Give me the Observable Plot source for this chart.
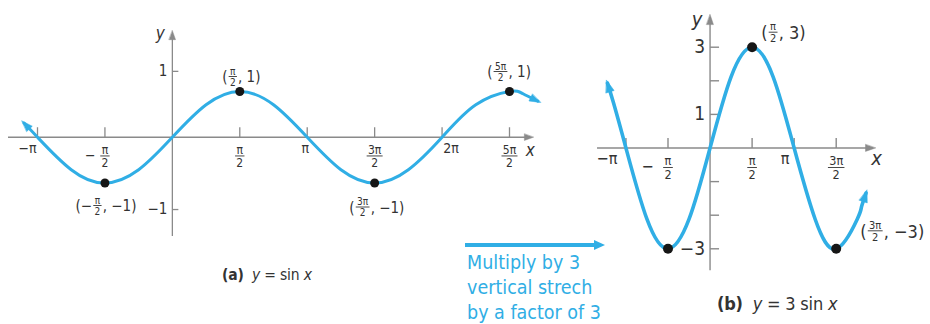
<!DOCTYPE html>
<html><head><meta charset="utf-8">
<script src="https://cdn.jsdelivr.net/npm/d3@7"></script>
<script src="https://cdn.jsdelivr.net/npm/@observablehq/plot@0.6"></script>
<style>
html,body{margin:0;padding:0;background:#fff;}
#root{position:relative;width:930px;height:324px;overflow:hidden;font-family:"DejaVu Sans Condensed","Liberation Sans Narrow",Roboto,sans-serif;color:#333;}
.cap{position:absolute;white-space:nowrap;color:#333;letter-spacing:-0.2px;}
.note{position:absolute;white-space:nowrap;color:#33afe3;font-size:19.5px;line-height:25px;}
</style></head><body><div id="root"></div>
<script>
const PI = Math.PI;
// ---------- Panel (a): y = sin x  (x in multiples of π) ----------
const curveA_xPi = [-1.1, -1, -0.75, -0.5, -0.25, 0, 0.25, 0.5, 0.75, 1, 1.25, 1.5, 1.75, 2, 2.25, 2.5, 2.6, 2.71];
const curveA_y   = [0.31, 0, -0.71, -1, -0.71, 0, 0.71, 1, 0.71, 0, -0.71, -1, -0.71, 0, 0.71, 1, 0.95, 0.79];
const pointsA_xPi = [-0.5, 0.5, 1.5, 2.5];
const pointsA_y = [-1, 1, -1, 1];
const pointLabelsA = ["(−π/2, −1)", "(π/2, 1)", "(3π/2, −1)", "(5π/2, 1)"];
const xTicksA_Pi = [-1, -0.5, 0.5, 1, 1.5, 2, 2.5];
const xTickLabelsA = ["−π", "−π/2", "π/2", "π", "3π/2", "2π", "5π/2"];
const yTicksA = [1.44, -1.58];
const yTickLabelsA = ["1", "−1"];
// ---------- Panel (b): y = 3 sin x ----------
const curveB_xPi = [-1.22, -1.15, -1, -0.75, -0.5, -0.25, 0, 0.25, 0.5, 0.75, 1, 1.25, 1.5, 1.75, 1.8, 1.855];
const curveB_y   = [1.93, 1.36, 0, -2.12, -3, -2.12, 0, 2.12, 3, 2.12, 0, -2.12, -3, -2.12, -1.76, -1.34];
const pointsB_xPi = [-0.5, 0.5, 1.5];
const pointsB_y = [-3, 3, -3];
const pointLabelsB = ["", "(π/2, 3)", "(3π/2, −3)"];
const xTicksB_Pi = [-1, -0.5, 0.5, 1, 1.5];
const xTickLabelsB = ["−π", "−π/2", "π/2", "π", "3π/2"];
const yTicksB = [3, 2, 1, -1, -2, -3];
const yTickLabelsB = ["3", "", "1", "", "", "−3"];

const FONT = '"DejaVu Sans Condensed","Liberation Sans Narrow",Roboto,sans-serif';
const BLUE = "#30aee5";
const AXIS = "#8a8a8a";
const INK = "#333";

const lineShape = {draw(ctx, l) { ctx.moveTo(0, 0); ctx.lineTo(0, -l); }};
const headShape = (w) => ({draw(ctx, l) { ctx.moveTo(0, -l); ctx.lineTo(w, 0); ctx.lineTo(-w, 0); ctx.closePath(); }});

// stacked fraction: numerator and denominator in one text element, with a bar between
function fractionMarks(x, y, num, den, o) {
  const d = [{x, y}];
  const bw = o.barW ?? (Math.max(num.length, den.length) * o.fs * 0.55 + 2);
  const base = {x: "x", y: "y", fontFamily: FONT, fill: INK};
  const pad = o.pad ?? 1;
  const ms = [
    Plot.text(d, {...base, text: () => num + "\n" + den, lineHeight: o.sep / o.fs, dx: o.dx, dy: o.dy + (o.shift ?? 0), fontSize: o.fs}),
    Plot.vector(d, {x: "x", y: "y", dx: o.dx, dy: o.dy, rotate: 90, anchor: "middle", length: bw, shape: lineShape, stroke: INK, strokeWidth: 0.9})
  ];
  if (o.prefix) ms.push(Plot.text(d, {...base, text: () => o.prefix, textAnchor: "end", dx: o.dx - bw / 2 - pad, dy: o.dy + (o.sideDy ?? 0), fontSize: o.sideFs}));
  if (o.suffix) ms.push(Plot.text(d, {...base, text: () => o.suffix, textAnchor: "start", dx: o.dx + bw / 2 + pad, dy: o.dy + (o.sideDy ?? 0), fontSize: o.sideFs}));
  return ms;
}

function buildPanel(P) {
  const sx = Plot.scale({x: {domain: P.x.domain, range: P.x.range}});
  const sy = Plot.scale({y: {domain: P.y.domain, range: P.y.range}});
  const toPx = (d) => [sx.apply(d.x), sy.apply(d.y)];
  const curve = P.curveXPi.map((v, i) => ({x: v * PI, y: P.curveY[i]}));
  function head(a, b) {
    const [ax, ay] = toPx(a), [bx, by] = toPx(b);
    const len = Math.hypot(bx - ax, by - ay);
    const ux = (bx - ax) / len, uy = (by - ay) / len;
    return {x: sx.invert(bx + ux * P.headExtra), y: sy.invert(by + uy * P.headExtra), angle: Math.atan2(ux, -uy) * 180 / PI};
  }
  const n = curve.length;
  const heads = [head(curve[1], curve[0]), head(curve[n - 2], curve[n - 1])];
  const [xa0, xa1] = P.xAxisExtent.map(v => v * PI);
  const [ya0, ya1] = P.yAxisExtent;
  const axisHeads = [{x: xa1, y: 0, angle: 90}, {x: 0, y: ya1, angle: 0}];
  const xLineEnd = sx.invert(sx.apply(xa1) - 4);
  const yLineEnd = sy.invert(sy.apply(ya1) + 4);
  const txt = {fontFamily: FONT, fill: INK};

  const marks = [
    Plot.ruleY([0], {x1: xa0, x2: xLineEnd, stroke: AXIS, strokeWidth: P.axisW}),
    Plot.ruleX([0], {y1: ya0, y2: yLineEnd, stroke: AXIS, strokeWidth: P.axisW}),
    Plot.vector(axisHeads, {x: "x", y: "y", rotate: "angle", length: P.axisHeadLen, anchor: "end", shape: headShape(P.axisHeadW), fill: AXIS, stroke: AXIS, strokeWidth: 0.5}),
    Plot.vector(P.xTicksPi.map(v => ({x: v * PI, y: 0})), {x: "x", y: "y", rotate: 0, length: P.xTickLen, anchor: "start", shape: lineShape, stroke: AXIS, strokeWidth: P.axisW, strokeLinecap: "butt"}),
    Plot.vector(P.yTicks.map(v => ({x: 0, y: v})), {x: "x", y: "y", rotate: 90, length: P.yTickLen, anchor: "start", shape: lineShape, stroke: AXIS, strokeWidth: P.axisW, strokeLinecap: "butt"}),
    Plot.text([{x: xa1, y: 0}], {x: "x", y: "y", text: () => "x", fontStyle: "italic", fontSize: P.axisNameFs, dx: P.xNameOff[0], dy: P.xNameOff[1], ...txt}),
    Plot.text([{x: 0, y: ya1}], {x: "x", y: "y", text: () => "y", fontStyle: "italic", fontSize: P.axisNameFs, dx: P.yNameOff[0], dy: P.yNameOff[1], ...txt}),
    Plot.line(curve, {x: "x", y: "y", curve: "natural", stroke: BLUE, strokeWidth: P.curveW}),
    Plot.vector(heads, {x: "x", y: "y", rotate: "angle", length: P.headLen, anchor: "end", shape: headShape(P.headW), fill: BLUE, stroke: BLUE, strokeWidth: 0.5}),
    Plot.dot(P.pointsXPi.map((v, i) => ({x: v * PI, y: P.pointsY[i]})), {x: "x", y: "y", r: P.dotR, fill: "#161616"})
  ];
  P.yTicks.forEach((v, i) => {
    const t = P.yTickLabels[i];
    if (t) marks.push(Plot.text([{x: 0, y: v}], {x: "x", y: "y", text: () => t, textAnchor: "end", dx: -P.yLabelGap, fontSize: P.yLabelFs, ...txt}));
  });
  P.xTicksPi.forEach((v, i) => {
    const t = P.xTickLabels[i];
    const m = t.match(/^(−?)(\d*π)\/(\d+)$/);
    if (m) {
      marks.push(...fractionMarks(v * PI, 0, m[2], m[3], {dx: 0, dy: P.tf.barDy, fs: P.tf.fs, sep: P.tf.sep, shift: P.tf.shift, prefix: m[1], sideFs: P.tickFs, pad: P.tf.signPad, sideDy: P.tf.signDy}));
    } else {
      marks.push(Plot.text([{x: v * PI, y: 0}], {x: "x", y: "y", text: () => t, dx: (P.singleDx[t] ?? 0), dy: P.singleDy, fontSize: P.tickFs, ...txt}));
    }
  });
  P.pointsXPi.forEach((v, i) => {
    const m = P.pointLabels[i].match(/^\((−?)(\d*π)\/(\d+)(,.*)$/);
    if (!m) return;
    const off = P.pointLabelOff[i];
    marks.push(...fractionMarks(v * PI, P.pointsY[i], m[2], m[3], {dx: off[0], dy: off[1], fs: P.pf.fs, sep: P.pf.sep, shift: P.pf.shift, prefix: "(" + m[1], suffix: m[4], sideFs: P.pf.sideFs, pad: P.pf.pad, sideDy: P.pf.sideDy}));
  });

  const svg = Plot.plot({
    width: P.width, height: 324,
    x: {domain: P.x.domain, range: P.x.range, axis: null},
    y: {domain: P.y.domain, range: P.y.range, axis: null},
    style: {background: "transparent", overflow: "visible"},
    marks
  });
  svg.style.position = "absolute";
  svg.style.left = P.left + "px";
  svg.style.top = "0px";
  return svg;
}

const panelA = {
  left: 0, width: 590,
  x: {domain: [-PI, 2.5 * PI], range: [37, 509]},
  y: {domain: [-1, 1], range: [182.5, 91]},
  curveXPi: curveA_xPi, curveY: curveA_y,
  pointsXPi: pointsA_xPi, pointsY: pointsA_y, pointLabels: pointLabelsA,
  xTicksPi: xTicksA_Pi, xTickLabels: xTickLabelsA, yTicks: yTicksA, yTickLabels: yTickLabelsA,
  xAxisExtent: [-1.215, 2.677], yAxisExtent: [-2.17, 2.33],
  axisW: 1.3, axisHeadLen: 9, axisHeadW: 3.2, xTickLen: 10, yTickLen: 6,
  curveW: 3, headLen: 11, headW: 3.8, headExtra: 3, dotR: 4.5,
  axisNameFs: 17, xNameOff: [-3, 13], yNameOff: [-12, 3],
  tickFs: 14, singleDx: {"−π": -10, "π": -2, "2π": 9}, singleDy: 11,
  tf: {fs: 12, sep: 13, barDy: 18.7, shift: 0, signPad: 5, signDy: -0.5},
  yLabelFs: 15, yLabelGap: 5,
  pf: {fs: 10, sep: 11, shift: 0, sideFs: 15, pad: 1.5, sideDy: 1},
  pointLabelOff: [[-7.5, 22.5], [-7, -15], [-12, 24], [-9, -20]]
};
const panelB = {
  left: 590, width: 340,
  x: {domain: [-0.5 * PI, 1.5 * PI], range: [77.5, 245.7]},
  y: {domain: [-3, 3], range: [248.3, 46.7]},
  curveXPi: curveB_xPi, curveY: curveB_y,
  pointsXPi: pointsB_xPi, pointsY: pointsB_y, pointLabels: pointLabelsB,
  xTicksPi: xTicksB_Pi, xTickLabels: xTickLabelsB, yTicks: yTicksB, yTickLabels: yTickLabelsB,
  xAxisExtent: [-1.338, 1.967], yAxisExtent: [-3.65, 3.97],
  axisW: 1.4, axisHeadLen: 10, axisHeadW: 3.4, xTickLen: 10, yTickLen: 9,
  curveW: 3.6, headLen: 12, headW: 4.2, headExtra: 3, dotR: 5,
  axisNameFs: 20, xNameOff: [1, 11], yNameOff: [-13, 5],
  tickFs: 16, singleDx: {"−π": -19, "π": -9}, singleDy: 11,
  tf: {fs: 12.5, sep: 13.6, barDy: 19.5, shift: 0, signPad: 10, signDy: -0.5},
  yLabelFs: 19, yLabelGap: 5,
  pf: {fs: 11, sep: 12, shift: 0, sideFs: 18, pad: 1.5, sideDy: 1},
  pointLabelOff: [[0, 0], [21, -15], [39, -18]]
};

const root = document.getElementById("root");
root.appendChild(buildPanel(panelA));
root.appendChild(buildPanel(panelB));

const capA = document.createElement("div");
capA.className = "cap";
capA.style.cssText += "left:222px;top:266px;font-size:15.5px;";
capA.innerHTML = "<b>(a)</b>&nbsp; <i>y</i> = sin <i>x</i>";
root.appendChild(capA);
const capB = document.createElement("div");
capB.className = "cap";
capB.style.cssText += "left:717px;top:293px;font-size:18px;";
capB.innerHTML = "<b>(b)</b>&nbsp; <i>y</i> = 3 sin <i>x</i>";
root.appendChild(capB);

const arrow = document.createElementNS("http://www.w3.org/2000/svg", "svg");
arrow.setAttribute("width", 150); arrow.setAttribute("height", 16);
arrow.style.cssText = "position:absolute;left:460px;top:237px;";
arrow.innerHTML = `<line x1="5" y1="8" x2="137" y2="8" stroke="${BLUE}" stroke-width="4"/><path d="M134,3 L145,8 L134,13 Z" fill="${BLUE}"/>`;
root.appendChild(arrow);

const note = document.createElement("div");
note.className = "note";
note.style.cssText += "left:467px;top:250px;color:" + BLUE + ";";
note.innerHTML = "Multiply by 3<br>vertical strech<br>by a factor of 3";
root.appendChild(note);
</script>
</body></html>
